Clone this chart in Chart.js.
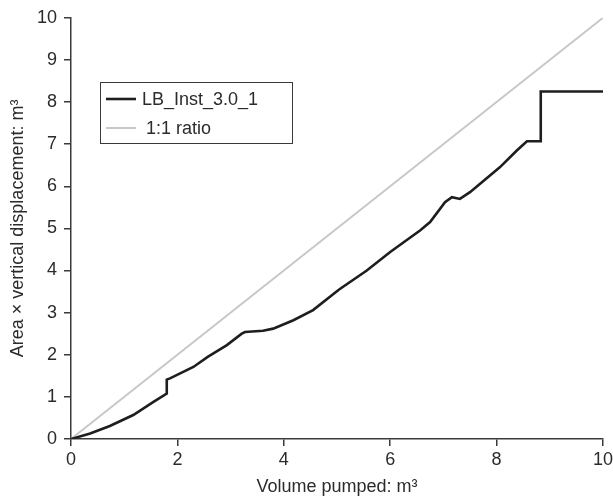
<!DOCTYPE html>
<html>
<head>
<meta charset="utf-8">
<script src="https://cdn.jsdelivr.net/npm/chart.js@4/dist/chart.umd.min.js"></script>
<style>
  html, body { margin: 0; padding: 0; background: #fff; }
  #wrap { width: 613px; height: 499px; }
</style>
</head>
<body>
<div id="wrap"><canvas id="chart" width="613" height="499"></canvas></div>
<script>
var volumePumped = [0, 0.36, 0.73, 1.17, 1.55, 1.80, 1.80, 1.86, 2.30, 2.57, 2.93, 3.21, 3.27,
  3.61, 3.80, 4.18, 4.55, 5.04, 5.56, 6.00, 6.56, 6.75, 7.03, 7.16, 7.31, 7.50, 7.69, 8.06,
  8.38, 8.57, 8.83, 8.83, 10.0];
var displacement = [0, 0.13, 0.31, 0.57, 0.88, 1.08, 1.41, 1.44, 1.71, 1.95, 2.23, 2.50, 2.54,
  2.57, 2.62, 2.82, 3.06, 3.55, 4.00, 4.44, 4.95, 5.15, 5.62, 5.74, 5.70, 5.86, 6.06, 6.45,
  6.85, 7.07, 7.07, 8.25, 8.25];

// 1:1 reference line
var ratioX = [0, 10];
var ratioY = [0, 10];

var axisTicks = [0, 2, 4, 6, 8, 10];
var yTicks = [0, 1, 2, 3, 4, 5, 6, 7, 8, 9, 10];

var seriesNames = ['LB_Inst_3.0_1', '1:1 ratio'];
var seriesColors = ['#1e1e1e', '#c8c8c8'];

var textColor = '#2b2b2b';
var axisColor = '#3a3a3a';
var fontFamily = 'Arial, "Liberation Sans", Helvetica, sans-serif';

function toPoints(xs, ys) {
  return xs.map(function(x, i) { return { x: x, y: ys[i] }; });
}

// Legend box drawn inside the plot, like the original figure
var boxLegend = {
  id: 'boxLegend',
  afterDraw: function(chart) {
    var ctx = chart.ctx;
    var left = 100, top = 82, w = 192, h = 61;
    ctx.save();
    ctx.fillStyle = '#fff';
    ctx.fillRect(left, top, w, h);
    ctx.strokeStyle = axisColor;
    ctx.lineWidth = 1;
    ctx.strokeRect(left + 0.5, top + 0.5, w, h);
    ctx.font = '18px ' + fontFamily;
    ctx.textBaseline = 'middle';
    ctx.fillStyle = textColor;
    chart.data.datasets.forEach(function(ds, i) {
      var y = top + 17 + i * 29;
      ctx.strokeStyle = ds.borderColor;
      ctx.lineWidth = ds.borderWidth;
      ctx.beginPath();
      ctx.moveTo(left + 6, y);
      ctx.lineTo(left + 36, y);
      ctx.stroke();
      ctx.fillText(ds.label, left + 42 + i * 4, y + 1);
    });
    ctx.restore();
  }
};

new Chart(document.getElementById('chart'), {
  type: 'line',
  data: {
    datasets: [
      {
        label: seriesNames[0],
        data: toPoints(volumePumped, displacement),
        borderColor: seriesColors[0],
        borderWidth: 2.6,
        pointRadius: 0,
        tension: 0,
        fill: false
      },
      {
        label: seriesNames[1],
        data: toPoints(ratioX, ratioY),
        borderColor: seriesColors[1],
        borderWidth: 2,
        pointRadius: 0,
        tension: 0,
        fill: false
      }
    ]
  },
  options: {
    responsive: false,
    animation: false,
    layout: { padding: { top: 17, right: 0, left: 0, bottom: 0 } },
    plugins: {
      legend: { display: false },
      tooltip: { enabled: false }
    },
    scales: {
      x: {
        type: 'linear',
        min: 0,
        max: 10,
        afterBuildTicks: function(axis) {
          axis.ticks = axisTicks.map(function(v) { return { value: v }; });
        },
        afterFit: function(axis) {
          axis.height = 60;
          axis.paddingRight = 10;
        },
        grid: {
          drawOnChartArea: false,
          drawTicks: true,
          tickLength: 7,
          color: axisColor,
          lineWidth: 1.5
        },
        border: { display: true, color: axisColor, width: 1.5 },
        ticks: {
          color: textColor,
          padding: 3,
          maxRotation: 0,
          font: { family: fontFamily, size: 18 }
        },
        title: {
          display: true,
          text: 'Volume pumped: m³',
          color: textColor,
          padding: { top: 0, bottom: 1 },
          font: { family: fontFamily, size: 18 }
        }
      },
      y: {
        type: 'linear',
        min: 0,
        max: 10,
        afterBuildTicks: function(axis) {
          axis.ticks = yTicks.map(function(v) { return { value: v }; });
        },
        afterFit: function(axis) { axis.width = 71; },
        grid: {
          drawOnChartArea: false,
          drawTicks: true,
          tickLength: 7,
          color: axisColor,
          lineWidth: 1.5
        },
        border: { display: true, color: axisColor, width: 1.5 },
        ticks: {
          color: textColor,
          padding: 7,
          font: { family: fontFamily, size: 18 }
        },
        title: {
          display: true,
          text: 'Area × vertical displacement: m³',
          color: textColor,
          padding: { top: 7, bottom: 0 },
          font: { family: fontFamily, size: 18 }
        }
      }
    }
  },
  plugins: [boxLegend]
});
</script>
</body>
</html>
